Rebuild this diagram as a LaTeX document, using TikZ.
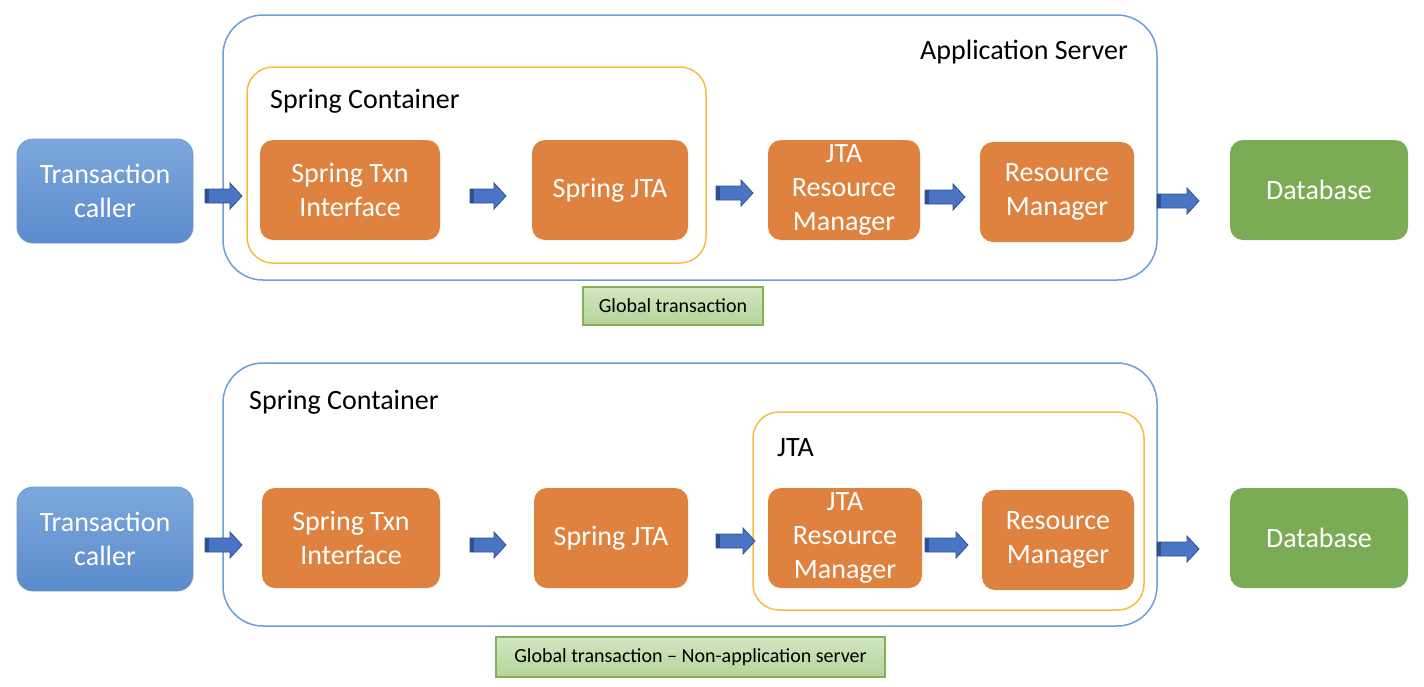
\documentclass[tikz,border=0pt]{standalone}
\usepackage{fontspec}
\setmainfont{Carlito}
\definecolor{callertop}{HTML}{7DA8DC}
\definecolor{callerbot}{HTML}{5A8BCB}
\definecolor{orangebox}{HTML}{E0823F}
\definecolor{greenbox}{HTML}{7BAC55}
\definecolor{outerblue}{HTML}{6E9ED6}
\definecolor{inneryellow}{HTML}{F4BD3F}
\definecolor{labtop}{HTML}{D2E6C2}
\definecolor{labbot}{HTML}{B4D499}
\definecolor{labedge}{HTML}{80B25C}
\definecolor{arrowblue}{HTML}{4A74C4}
\definecolor{arrowdark}{HTML}{2F528F}
\tikzset{
  box/.style={rounded corners=13pt, inner sep=0pt, text=white, align=center,
    font=\fontsize{28}{34}\selectfont},
  callerbox/.style={box, top color=callertop, bottom color=callerbot, draw=callerbot!90!white,
    line width=0.8pt, minimum width=176pt, minimum height=104pt, rounded corners=16pt},
  orangebox/.style={box, fill=orangebox, minimum height=100pt},
  dbbox/.style={box, fill=greenbox, minimum width=178pt, minimum height=100pt},
  outerbox/.style={draw=outerblue, line width=1.5pt, rounded corners=40pt},
  innerbox/.style={draw=inneryellow, line width=1.5pt, rounded corners=26pt},
  title/.style={inner sep=0pt, font=\fontsize{28}{33}\selectfont, text=black},
  caption/.style={draw=labedge, line width=2pt, top color=labtop, bottom color=labbot,
    inner sep=0pt, font=\fontsize{20}{24}\selectfont},
  barrow/.pic={
    \filldraw[fill=arrowblue, draw=arrowdark, line width=0.8pt]
      (0,-7) -- (#1-12,-7) -- (#1-12,-13) -- (#1,0) -- (#1-12,13) -- (#1-12,7) -- (0,7) -- cycle;
    \fill[arrowdark] (0.4,-6.6) rectangle (4,6.6);
  }
}
\begin{document}
\begin{tikzpicture}[x=1pt, y=-1pt]
\useasboundingbox (0,0) rectangle (1424,686);

% ---------------- Top diagram ----------------
\draw[outerbox] (223,15) rectangle (1157,280);
\node[title] (apptitle) at (1024,52) {Application Server};
\draw[innerbox] (247,67) rectangle (706,263);
\node[title, anchor=west] (sctitle1) at (270,101) {Spring Container};

\node[callerbox] (caller1) at (105,191) {Transaction\\caller};
\node[orangebox, minimum width=180pt] (stxn1) at (350,190) {Spring Txn\\Interface};
\node[orangebox, minimum width=156pt] (sjta1) at (610,190) {Spring JTA};
\node[orangebox, minimum width=152pt] (jrm1) at (844,190) {JTA\\Resource\\Manager};
\node[orangebox, minimum width=154pt] (rm1) at (1057,192) {Resource\\Manager};
\node[dbbox] (db1) at (1319,190) {Database};

\pic at (205,196) {barrow=37};
\pic at (470,196) {barrow=36};
\pic at (716,193) {barrow=37};
\pic at (925,197) {barrow=40};
\pic at (1157,201) {barrow=42};

\node[caption, minimum width=180pt, minimum height=38pt] (cap1) at (673,306) {Global transaction};

% ---------------- Bottom diagram ----------------
\draw[outerbox] (223,363) rectangle (1157,626);
\node[title, anchor=west] (sctitle2) at (249,402) {Spring Container};
\draw[innerbox] (753,412) rectangle (1144,610);
\node[title, anchor=west] (jtatitle) at (777,448) {JTA};

\node[callerbox] (caller2) at (105,539) {Transaction\\caller};
\node[orangebox, minimum width=178pt] (stxn2) at (351,538) {Spring Txn\\Interface};
\node[orangebox, minimum width=154pt] (sjta2) at (611,538) {Spring JTA};
\node[orangebox, minimum width=154pt] (jrm2) at (845,538) {JTA\\Resource\\Manager};
\node[orangebox, minimum width=152pt] (rm2) at (1058,540) {Resource\\Manager};
\node[dbbox] (db2) at (1319,538) {Database};

\pic at (205,545) {barrow=37};
\pic at (470,545) {barrow=36};
\pic at (716,541) {barrow=39};
\pic at (925,545) {barrow=43};
\pic at (1157,549) {barrow=42};

\node[caption, minimum width=389pt, minimum height=40pt] (cap2) at (690.5,657) {Global transaction -- Non-application server};
\end{tikzpicture}
\end{document}
